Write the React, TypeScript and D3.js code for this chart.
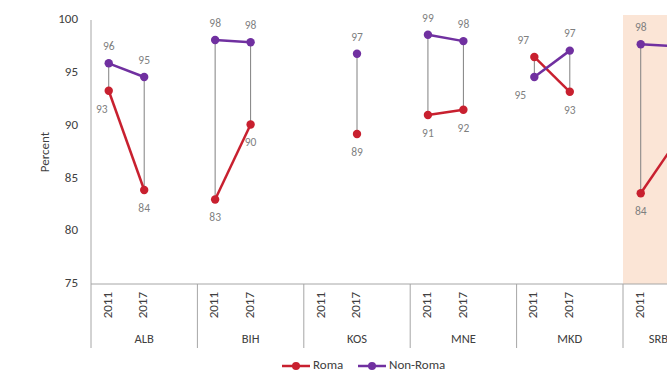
import React from "react";
import * as d3 from "d3";

const groups = ["ALB", "BIH", "KOS", "MNE", "MKD", "SRB"];
const years = ["2011", "2017"];
const highlighted = ["SRB"];
// values per group, in order 2011, 2017
const roma: (number | null)[] = [93.3, 83.9, 83.0, 90.1, null, 89.2, 91.0, 91.5, 96.5, 93.2, 83.6, 88.5];
const nonRoma: (number | null)[] = [95.9, 94.6, 98.1, 97.9, null, 96.8, 98.6, 98.0, 94.6, 97.1, 97.7, 97.5];
const yTicks = [75, 80, 85, 90, 95, 100];
const seriesNames = ["Roma", "Non-Roma"];
const colors = ["#C8202F", "#7030A0"];

// label nudges (layout only): key `${seriesIndex}-${group}-${year}` -> dx
const labelNudge: Record<string, number> = {
  "0-ALB-2011": -7,
  "0-MKD-2011": -11,
  "1-MKD-2011": -14,
};

const W = 667, H = 374;
const left = 91, top = 20, bottom = 284, axisBottom = 348;
const slotW = 106.4 / 3;

export default function App() {
  const slots: string[] = [];
  groups.forEach((g, gi) => {
    years.forEach((y) => slots.push(`${g}-${y}`));
    if (gi < groups.length - 1) slots.push(`${g}-blank`);
  });
  const x = d3.scaleBand<string>().domain(slots).range([left, left + slotW * slots.length]).padding(0);
  const y = d3.scaleLinear().domain([75, 100]).range([bottom, top]);
  const cx = (gi: number, yi: number) => (x(`${groups[gi]}-${years[yi]}`) as number) + x.bandwidth() / 2;
  const gx = (gi: number) => x(`${groups[gi]}-${years[0]}`) as number;
  const gEnd = (gi: number) => (gi < groups.length - 1 ? gx(gi + 1) : left + slotW * slots.length);
  const line = d3.line<[number, number]>().x((d) => d[0]).y((d) => d[1]);
  const font = "Calibri, Carlito, 'Open Sans', sans-serif";
  const series = [roma, nonRoma];

  return (
    <svg width={W} height={H} style={{ position: "absolute", left: 0, top: 0 }} fontFamily={font}>
      {groups.map((g, gi) =>
        highlighted.includes(g) ? (
          <rect key={g} x={gx(gi)} y={15} width={gEnd(gi) - gx(gi) + slotW} height={bottom - 15} fill="#FBE5D6" />
        ) : null
      )}
      <line x1={left} x2={left} y1={top} y2={axisBottom} stroke="#A6A6A6" strokeWidth={1} />
      <line x1={left} x2={left + slotW * slots.length} y1={bottom} y2={bottom} stroke="#A6A6A6" strokeWidth={1} />
      {yTicks.map((t) => (
        <text key={t} x={78} y={y(t)} textAnchor="end" dominantBaseline="middle" fontSize={13} fill="#404040">
          {t}
        </text>
      ))}
      <text transform={`translate(46,${(top + bottom) / 2}) rotate(-90)`} textAnchor="middle" dominantBaseline="middle" fontSize={13} fill="#404040">
        Percent
      </text>
      {groups.map((g, gi) => (
        <g key={g}>
          {gi > 0 && <line x1={gx(gi)} x2={gx(gi)} y1={bottom} y2={axisBottom} stroke="#A6A6A6" strokeWidth={1} />}
          {years.map((yr, yi) => (
            <text key={yr} transform={`translate(${cx(gi, yi)},${292}) rotate(-90)`} textAnchor="end" dominantBaseline="middle" fontSize={13} fill="#404040">
              {yr}
            </text>
          ))}
          <text x={(gx(gi) + gEnd(gi)) / 2} y={340} textAnchor="middle" dominantBaseline="middle" fontSize={12.5} fill="#404040">
            {g}
          </text>
        </g>
      ))}
      {groups.map((g, gi) =>
        years.map((yr, yi) => {
          const a = roma[gi * 2 + yi], b = nonRoma[gi * 2 + yi];
          if (a == null || b == null) return null;
          return <line key={`${g}${yr}`} x1={cx(gi, yi)} x2={cx(gi, yi)} y1={y(a)} y2={y(b)} stroke="#808080" strokeWidth={1} />;
        })
      )}
      {series.map((s, si) =>
        groups.map((g, gi) => {
          const pts: [number, number][] = [];
          years.forEach((yr, yi) => {
            const v = s[gi * 2 + yi];
            if (v != null) pts.push([cx(gi, yi), y(v)]);
          });
          return (
            <g key={`${si}${g}`}>
              {pts.length > 1 && <path d={line(pts) as string} fill="none" stroke={colors[si]} strokeWidth={2.5} />}
              {pts.map((p, i) => (
                <circle key={i} cx={p[0]} cy={p[1]} r={4.2} fill={colors[si]} />
              ))}
            </g>
          );
        })
      )}
      {series.map((s, si) =>
        groups.map((g, gi) =>
          years.map((yr, yi) => {
            const v = s[gi * 2 + yi];
            if (v == null) return null;
            const other = series[1 - si][gi * 2 + yi];
            const above = other == null ? si === 1 : v >= other;
            const dx = labelNudge[`${si}-${g}-${yr}`] || 0;
            return (
              <text key={`${si}${g}${yr}`} x={cx(gi, yi) + dx} y={y(v) + (above ? -16 : 19)} textAnchor="middle" dominantBaseline="middle" fontSize={11.5} fill="#7F7F7F">
                {Math.round(v)}
              </text>
            );
          })
        )
      )}
      {seriesNames.map((n, i) => {
        const lx = i === 0 ? 282 : 358;
        return (
          <g key={n}>
            <line x1={lx} x2={lx + 28} y1={366} y2={366} stroke={colors[i]} strokeWidth={2.5} />
            <circle cx={lx + 14} cy={366} r={4} fill={colors[i]} />
            <text x={lx + 31} y={366} dominantBaseline="middle" fontSize={13} fill="#404040">
              {n}
            </text>
          </g>
        );
      })}
    </svg>
  );
}
